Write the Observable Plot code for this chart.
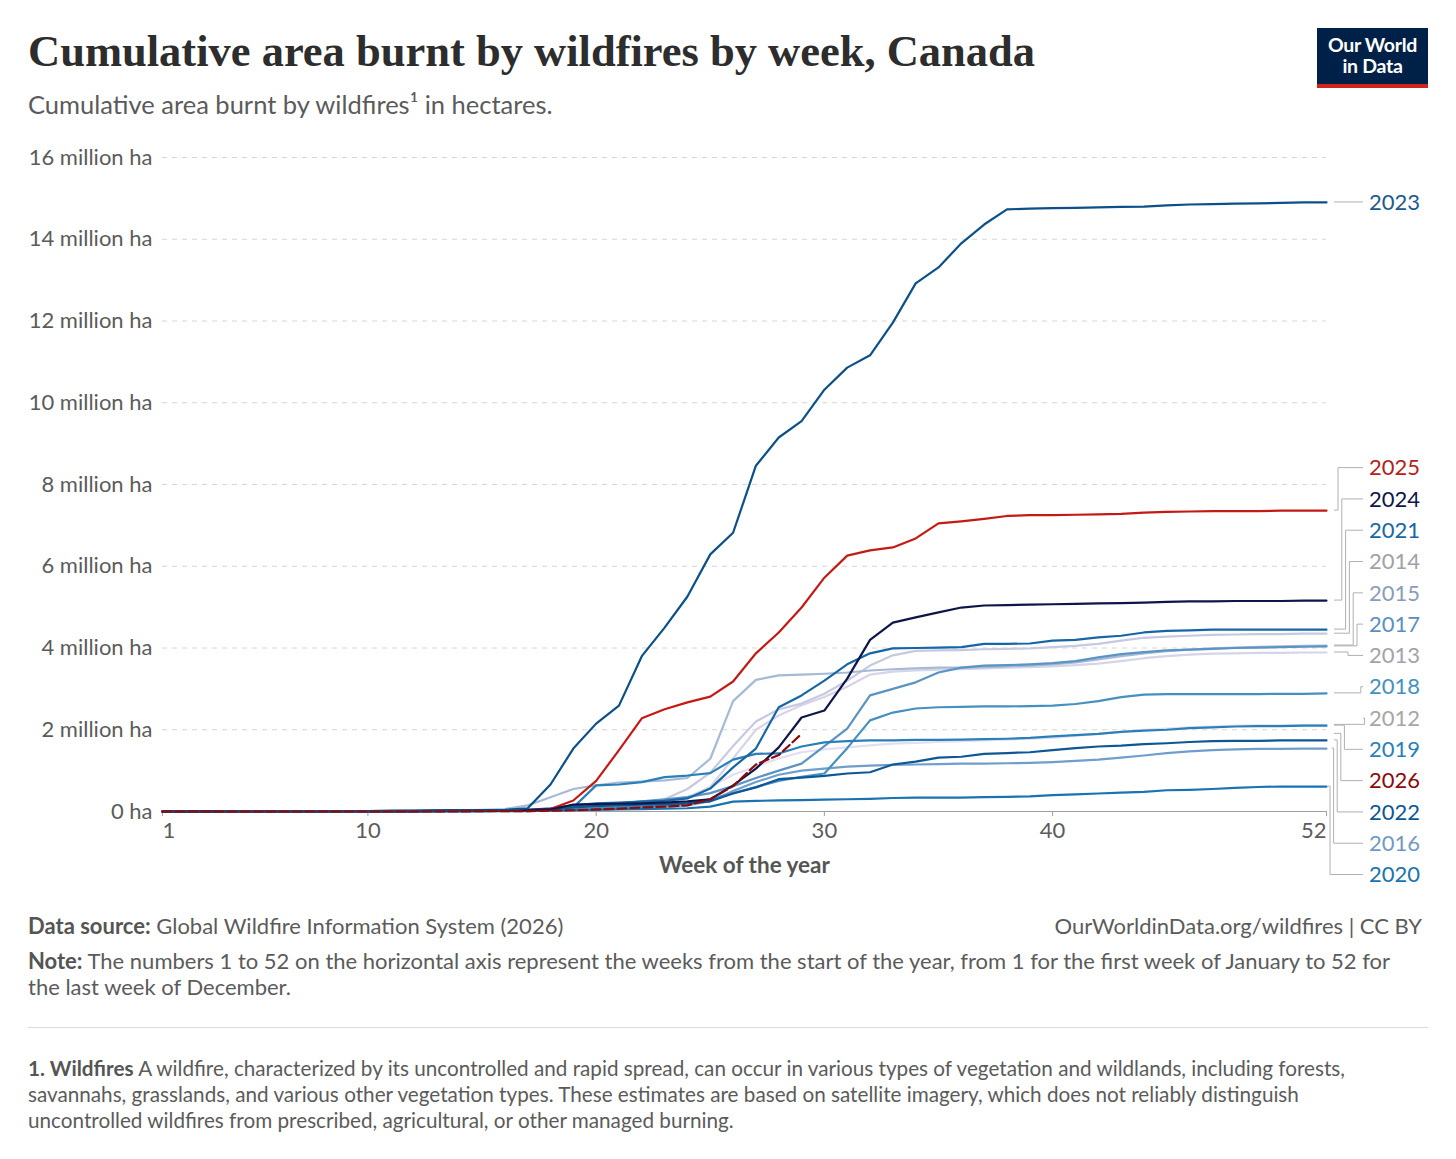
<!DOCTYPE html>
<html>
<head>
<meta charset="utf-8">
<script src="https://cdn.jsdelivr.net/npm/d3@7"></script>
<script src="https://cdn.jsdelivr.net/npm/@observablehq/plot@0.6"></script>
<style>
  html, body { margin: 0; padding: 0; background: #fff; }
  #page { position: relative; width: 1456px; height: 1159px; font-family: Lato, "Noto Sans", sans-serif; color: #5b5b5b; overflow: hidden; }
  .title { position: absolute; left: 28px; top: 29px; font-family: "Liberation Serif", "DejaVu Serif", serif; font-weight: 700; font-size: 44.5px; line-height: 45px; color: #2d2d2d; white-space: nowrap; }
  .subtitle { position: absolute; left: 28px; top: 89px; font-size: 25.5px; line-height: 30px; color: #5b5b5b; white-space: nowrap; }
  .logo { position: absolute; left: 1317px; top: 28px; width: 111px; height: 60px; background: #002147; border-bottom: 4px solid #ce261e; box-sizing: border-box; }
  .logo div { position: absolute; left: 0; width: 111px; text-align: center; color: #fff; font-weight: 700; font-size: 19.5px; line-height: 20px; letter-spacing: -0.3px; }
  #chart { position: absolute; left: 0; top: 130px; }
  .foot { position: absolute; left: 28px; font-size: 22px; line-height: 26px; color: #5b5b5b; white-space: nowrap; }
  .foot b { color: #555; font-weight: 700; }
  .right { position: absolute; right: 34px; top: 913px; font-size: 22px; line-height: 26px; color: #5b5b5b; white-space: nowrap; }
  .hr { position: absolute; left: 28px; top: 1027px; width: 1400px; height: 1px; background: #dcdcdc; }
</style>
</head>
<body>
<div id="page">
  <div class="title">Cumulative area burnt by wildfires by week, Canada</div>
  <div class="subtitle">Cumulative area burnt by wildfires¹ in hectares.</div>
  <div class="logo"><div style="top:7px">Our World</div><div style="top:28px">in Data</div></div>
  <div id="chart"></div>
  <div class="foot" style="top:913px"><b>Data source:</b> Global Wildfire Information System (2026)</div>
  <div class="right">OurWorldinData.org/wildfires | CC BY</div>
  <div class="foot" style="top:948px"><b>Note:</b> The numbers 1 to 52 on the horizontal axis represent the weeks from the start of the year, from 1 for the first week of January to 52 for<br>the last week of December.</div>
  <div class="hr"></div>
  <div class="foot" style="top:1055px;font-size:20.7px"><b>1. Wildfires</b> A wildfire, characterized by its uncontrolled and rapid spread, can occur in various types of vegetation and wildlands, including forests,<br>savannahs, grasslands, and various other vegetation types. These estimates are based on satellite imagery, which does not reliably distinguish<br>uncontrolled wildfires from prescribed, agricultural, or other managed burning.</div>
</div>
<script>
// ---- Data: cumulative area burnt, million hectares, by week (1..52) ----
const years = ["2012","2013","2014","2015","2016","2017","2018","2019","2020","2021","2022","2023","2024","2025","2026"];

const v2012 = [0,0,0,0,0.01,0.01,0.01,0.01,0.01,0.01,0.01,0.02,0.02,0.02,0.02,0.03,
  0.04,0.07,0.1,0.15,0.2,0.25,0.28,0.32,0.6,0.9,1.1,1.3,1.45,1.52,1.57,1.62,1.66,1.68,1.7,1.72,1.74,1.76,1.78,1.8,1.85,1.9,1.95,2.0,2.03,2.06,2.08,2.1,2.11,2.11,2.12,2.12];
const v2013 = [0,0,0,0,0,0.01,0.01,0.01,0.01,0.01,0.01,0.01,0.02,0.02,0.02,0.03,
  0.04,0.06,0.08,0.12,0.18,0.22,0.26,0.35,0.6,1.3,2.0,2.35,2.6,2.8,3.05,3.35,3.42,3.45,3.47,3.48,3.5,3.52,3.53,3.55,3.58,3.62,3.68,3.75,3.8,3.84,3.86,3.87,3.88,3.88,3.89,3.89];
const v2014 = [0,0,0,0,0,0,0.01,0.01,0.01,0.01,0.01,0.01,0.01,0.02,0.02,0.02,
  0.03,0.05,0.07,0.1,0.15,0.2,0.3,0.55,0.95,1.6,2.2,2.5,2.64,2.88,3.2,3.57,3.82,3.93,3.94,3.95,3.97,3.98,3.99,4.02,4.05,4.1,4.18,4.25,4.28,4.3,4.32,4.33,4.34,4.34,4.35,4.35];
const v2015 = [0,0,0,0,0,0.01,0.01,0.01,0.01,0.01,0.01,0.02,0.02,0.03,0.04,0.06,
  0.15,0.35,0.55,0.64,0.71,0.73,0.76,0.82,1.29,2.7,3.22,3.33,3.35,3.37,3.4,3.45,3.48,3.5,3.52,3.52,3.53,3.55,3.57,3.6,3.65,3.72,3.8,3.87,3.92,3.96,3.99,4.01,4.03,4.04,4.05,4.06];
const v2016 = [0,0,0,0,0,0,0,0.01,0.01,0.01,0.01,0.01,0.01,0.02,0.02,0.02,
  0.03,0.04,0.05,0.07,0.09,0.1,0.12,0.15,0.25,0.5,0.72,0.9,1.0,1.05,1.1,1.12,1.14,1.15,1.16,1.17,1.17,1.18,1.19,1.21,1.24,1.27,1.32,1.37,1.43,1.47,1.5,1.52,1.53,1.53,1.54,1.54];
const v2017 = [0,0,0,0,0,0,0.01,0.01,0.01,0.01,0.01,0.01,0.01,0.01,0.02,0.02,
  0.02,0.05,0.1,0.15,0.2,0.25,0.3,0.35,0.45,0.62,0.82,1.0,1.17,1.6,2.03,2.84,3.0,3.16,3.4,3.52,3.57,3.58,3.6,3.63,3.68,3.77,3.85,3.9,3.94,3.96,3.98,4.0,4.01,4.02,4.03,4.04];
const v2018 = [0,0,0,0,0,0,0,0,0.01,0.01,0.01,0.01,0.01,0.01,0.01,0.02,
  0.02,0.03,0.05,0.08,0.1,0.12,0.15,0.2,0.3,0.45,0.6,0.75,0.85,0.93,1.55,2.23,2.42,2.52,2.55,2.56,2.57,2.57,2.58,2.59,2.63,2.7,2.8,2.86,2.87,2.87,2.87,2.87,2.87,2.88,2.88,2.89];
const v2019 = [0,0,0,0,0,0,0,0.01,0.01,0.01,0.01,0.01,0.01,0.02,0.02,0.02,
  0.03,0.06,0.1,0.64,0.66,0.72,0.84,0.88,0.94,1.27,1.41,1.42,1.59,1.69,1.72,1.74,1.74,1.75,1.75,1.76,1.77,1.78,1.8,1.84,1.87,1.9,1.95,1.98,2.0,2.04,2.06,2.08,2.09,2.09,2.1,2.1];
const v2020 = [0,0,0,0,0,0,0,0,0,0,0,0.01,0.01,0.01,0.01,0.01,
  0.01,0.02,0.03,0.04,0.05,0.06,0.07,0.08,0.12,0.24,0.26,0.27,0.28,0.29,0.3,0.31,0.33,0.34,0.34,0.34,0.35,0.36,0.37,0.4,0.42,0.44,0.46,0.48,0.52,0.53,0.55,0.58,0.6,0.61,0.61,0.61];
const v2021 = [0,0,0,0,0,0,0.01,0.01,0.01,0.01,0.01,0.01,0.02,0.02,0.02,0.03,
  0.04,0.08,0.15,0.2,0.22,0.24,0.26,0.32,0.56,1.08,1.54,2.55,2.84,3.2,3.6,3.87,3.99,4.0,4.01,4.02,4.1,4.1,4.11,4.18,4.2,4.26,4.3,4.38,4.42,4.43,4.45,4.45,4.45,4.45,4.45,4.45];
const v2022 = [0,0,0,0,0,0,0,0,0.01,0.01,0.01,0.01,0.01,0.01,0.01,0.02,
  0.02,0.05,0.1,0.13,0.15,0.17,0.18,0.2,0.25,0.44,0.59,0.79,0.83,0.87,0.93,0.96,1.15,1.22,1.32,1.34,1.41,1.43,1.45,1.5,1.55,1.59,1.61,1.65,1.67,1.7,1.72,1.73,1.73,1.74,1.74,1.74];
const v2023 = [0,0,0,0.01,0.01,0.01,0.01,0.01,0.01,0.01,0.02,0.02,0.02,0.02,0.03,0.04,
  0.08,0.66,1.54,2.15,2.59,3.8,4.5,5.26,6.29,6.82,8.46,9.15,9.55,10.32,10.86,11.16,11.96,12.92,13.31,13.9,14.36,14.73,14.75,14.76,14.77,14.78,14.79,14.8,14.83,14.85,14.86,14.87,14.88,14.89,14.9,14.9];
const v2024 = [0,0,0,0.01,0.01,0.01,0.01,0.01,0.01,0.01,0.01,0.01,0.02,0.02,0.02,0.03,
  0.04,0.05,0.17,0.18,0.19,0.2,0.22,0.25,0.3,0.64,1.05,1.57,2.3,2.47,3.25,4.2,4.62,4.75,4.87,4.99,5.04,5.05,5.06,5.07,5.08,5.09,5.1,5.11,5.13,5.14,5.14,5.15,5.15,5.15,5.16,5.16];
const v2025 = [0,0,0,0,0,0,0.01,0.01,0.01,0.01,0.01,0.01,0.01,0.02,0.02,0.02,
  0.03,0.06,0.27,0.75,1.5,2.28,2.5,2.67,2.81,3.18,3.87,4.38,4.99,5.72,6.26,6.39,6.46,6.68,7.05,7.1,7.16,7.23,7.25,7.25,7.26,7.27,7.28,7.31,7.33,7.34,7.35,7.35,7.35,7.36,7.36,7.36];
const v2026 = [0,0,0,0,0,0,0,0,0,0,0,0,0,0,0.01,0.01,
  0.01,0.02,0.03,0.05,0.07,0.1,0.12,0.15,0.3,0.62,1.15,1.38,1.9];

const seriesValues = [v2012,v2013,v2014,v2015,v2016,v2017,v2018,v2019,v2020,v2021,v2022,v2023,v2024,v2025,v2026];
const lineColors  = ["#e3dff0","#d5d4e8","#c6c9e1","#a6b9d6","#709ecb","#5b93c3","#4690bf","#2a7fb8","#1973b1","#1666a6","#0d5795","#0b5089","#0e1648","#c41a14","#8c0a0a"];
const labelColors = ["#a6a6a6","#a2a2a8","#a0a0a8","#8a9cb8","#7099c4","#5b8fbf","#4690bf","#2a7fb8","#1973b1","#1666a6","#0d5795","#1b5a8d","#0e1648","#b5211b","#8c0a0a"];
const yTicks = [0,2,4,6,8,10,12,14,16];
const xTicksMid = [10,20,30,40];
const xTickFirst = [1];
const xTickLast = [52];
const drawOrder = ["2012","2013","2014","2016","2015","2018","2020","2017","2019","2022","2021","2026","2025","2024","2023"];

const rows = [];
years.forEach((yr, i) => seriesValues[i].forEach((v, w) => rows.push({year: yr, week: w + 1, value: v})));
const ordered = drawOrder.flatMap(yr => rows.filter(r => r.year === yr));

const W = 1456, H = 770;
const chart = Plot.plot({
  width: W, height: H,
  marginLeft: 162, marginRight: 130, marginTop: 27, marginBottom: 89,
  style: {fontFamily: "Lato, 'Noto Sans', sans-serif", background: "#fff", overflow: "visible"},
  x: {domain: [1, 52], axis: null},
  y: {domain: [0, 16], axis: null},
  color: {domain: years, range: lineColors},
  marks: [
    Plot.gridY(yTicks.filter(d => d > 0), {stroke: "#d6d6d6", strokeOpacity: 1, strokeDasharray: "5,5"}),
    Plot.ruleY([0], {stroke: "#a0a0a0"}),
    Plot.axisY(yTicks, {tickSize: 0, tickPadding: 10, fontSize: 22, color: "#5b5b5b", label: null,
      tickFormat: d => d === 0 ? "0 ha" : `${d} million ha`}),
    Plot.axisX(xTicksMid, {tickSize: 5, tickPadding: 6, fontSize: 22, color: "#5b5b5b", stroke: "#a0a0a0", label: null}),
    Plot.axisX(xTickFirst, {tickSize: 5, tickPadding: 6, fontSize: 22, color: "#5b5b5b", stroke: "#a0a0a0", textAnchor: "start", label: null}),
    Plot.axisX(xTickLast, {tickSize: 5, tickPadding: 6, fontSize: 22, color: "#5b5b5b", stroke: "#a0a0a0", textAnchor: "end", label: null}),
    Plot.text(["Week of the year"], {frameAnchor: "bottom", dy: 61, fontSize: 22.5, fontWeight: 700, fill: "#555"}),
    Plot.line(ordered.filter(r => r.year !== "2026"), {x: "week", y: "value", z: "year", stroke: "year", strokeWidth: 2.2, curve: "linear"}),
    Plot.line(ordered.filter(r => r.year === "2026"), {x: "week", y: "value", stroke: "year", strokeWidth: 2.2, strokeDasharray: "9,4"})
  ]
});
document.getElementById("chart").appendChild(chart);

// ---- end labels with leader lines, positioned through the plot's own scales ----
const sx = chart.scale("x"), sy = chart.scale("y");
const xEnd = sx.apply(52);
const sp = 31.3;
const items = years.map((yr, i) => {
  const vals = seriesValues[i];
  const end = vals[vals.length - 1];
  return {year: yr, i, end, target: sy.apply(end)};
}).sort((a, b) => a.target - b.target);

let groups = items.map(it => ({members: [it], sum: it.target}));
const place = g => { const n = g.members.length; g.top = g.sum / n - (n - 1) / 2 * sp - (n > 1 ? 5 : 0); };
groups.forEach(place);
let again = true;
while (again) {
  again = false;
  for (let k = 0; k < groups.length - 1; k++) {
    const a = groups[k], b = groups[k + 1];
    if (a.top + a.members.length * sp > b.top) {
      const m = {members: a.members.concat(b.members), sum: a.sum + b.sum};
      place(m);
      groups.splice(k, 2, m);
      again = true;
      break;
    }
  }
}
groups.forEach(g => g.members.forEach((it, j) => { it.ly = g.top + j * sp; }));

const svg = d3.select(chart);
const gLab = svg.append("g").attr("aria-label", "end labels").attr("text-anchor", "start");
const x0 = xEnd + 8, x1 = xEnd + 37, xText = xEnd + 43;
const ups = items.filter(it => it.ly < it.target - 3).sort((a, b) => a.ly - b.ly);
const downs = items.filter(it => it.ly > it.target + 3).sort((a, b) => b.ly - a.ly);
ups.forEach((it, k) => { it.ex = xEnd + 12 + k * 3.8; });
downs.forEach((it, k) => { it.ex = xEnd + 4 + k * 3.6; });
items.forEach(it => {
  const path = it.ex == null
    ? `M${x0},${it.target}L${x1},${it.ly}`
    : `M${Math.min(x0, it.ex - 2)},${it.target}H${it.ex}V${it.ly}H${x1}`;
  gLab.append("path").attr("d", path).attr("fill", "none").attr("stroke", "#b0b0b0").attr("stroke-width", 1);
  gLab.append("text").attr("x", xText).attr("y", it.ly).attr("dy", "0.35em")
    .attr("text-anchor", "start").attr("font-size", 22).attr("fill", labelColors[it.i]).text(it.year);
});
</script>
</body>
</html>
